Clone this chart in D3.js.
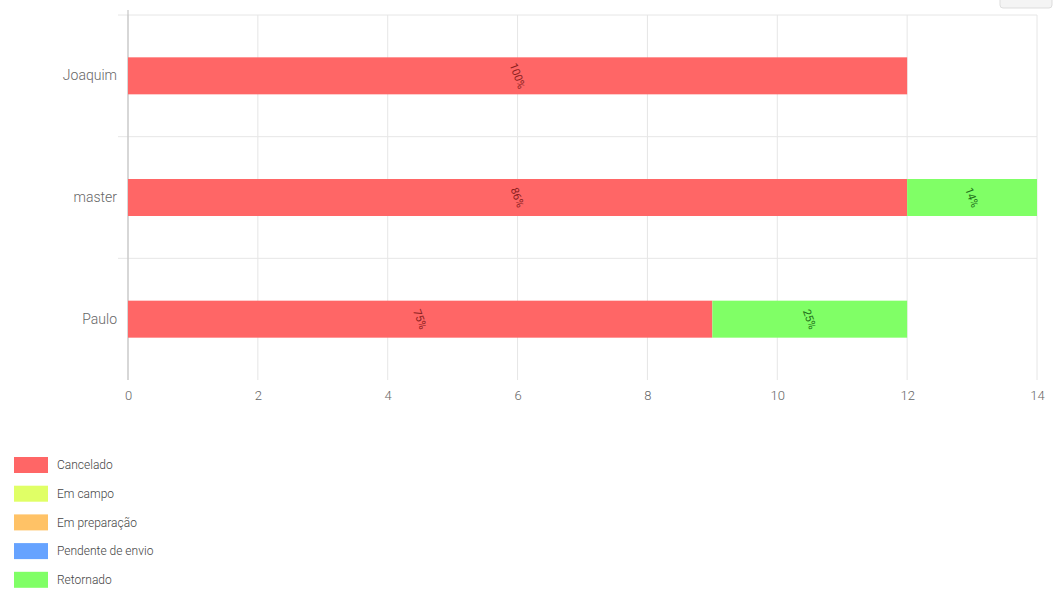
<!DOCTYPE html>
<html>
  <head>
    <meta charset="utf-8">
    <title>Status por usuario</title>
    <script src="https://d3js.org/d3.v7.min.js"></script>
    <style>
      body { margin: 0; background: #fff; font-family: Roboto, "Noto Sans", sans-serif; font-weight: 300; }
      .grid line { stroke: #e6e6e6; }
      .tick text { fill: #666; }
    </style>
  </head>
  <body>
    <svg width="1056" height="593"></svg>
    <script>
      // data
      var users = ["Joaquim", "master", "Paulo"];
      var statuses = ["Cancelado", "Em campo", "Em preparação", "Pendente de envio", "Retornado"];
      var colors = ["#ff6666", "#e0ff66", "#ffc266", "#66a3ff", "#80ff66"];
      var labelColors = ["#8a2020", "#6a7a1a", "#8a5a1a", "#1a4a8a", "#1f6f1a"];
      var cancelado = [12, 12, 9];
      var emCampo = [0, 0, 0];
      var emPreparacao = [0, 0, 0];
      var pendente = [0, 0, 0];
      var retornado = [0, 2, 3];
      var xTicks = [0, 2, 4, 6, 8, 10, 12, 14];

      var series = [cancelado, emCampo, emPreparacao, pendente, retornado];
      var rows = users.map(function(u, i) {
        var r = { user: u };
        statuses.forEach(function(s, j) { r[s] = series[j][i]; });
        return r;
      });

      var svg = d3.select("svg");
      var pLeft = 128, pRight = 1037, pTop = 15, pBottom = 380;

      var x = d3.scaleLinear().domain([0, 14]).range([pLeft, pRight]);
      var y = d3.scaleBand().domain(users).range([pTop, pBottom]).paddingInner(0).paddingOuter(0);

      // button at top right, cut off
      svg.append("rect").attr("x", 1000).attr("y", -6).attr("width", 52).attr("height", 14)
          .attr("rx", 3).attr("fill", "#f4f4f4").attr("stroke", "#ddd");

      // grid
      var grid = svg.append("g").attr("class", "grid");
      grid.selectAll("line.v").data(xTicks).enter().append("line").attr("class", "v")
          .attr("x1", function(d) { return x(d); }).attr("x2", function(d) { return x(d); })
          .attr("y1", pTop).attr("y2", pBottom);
      grid.selectAll("line.h").data(users.slice(1)).enter().append("line").attr("class", "h")
          .attr("x1", pLeft - 10).attr("x2", pRight)
          .attr("y1", function(d) { return y(d); }).attr("y2", function(d) { return y(d); });
      grid.append("line").attr("x1", pLeft - 10).attr("x2", pRight).attr("y1", pTop).attr("y2", pTop);

      // x axis labels
      var xAxis = d3.axisBottom(x).tickValues(xTicks).tickSize(0).tickPadding(11);
      var gx = svg.append("g").attr("transform", "translate(0," + pBottom + ")").call(xAxis);
      gx.select(".domain").remove();
      gx.selectAll("text").style("font-size", "13px").style("font-family", "Roboto").style("font-weight", 300);

      // y axis
      var yAxis = d3.axisLeft(y).tickSize(0).tickPadding(11);
      var gy = svg.append("g").attr("transform", "translate(" + pLeft + ",0)").call(yAxis);
      gy.select(".domain").attr("stroke", "#bbb").attr("d", "M0," + (pTop - 5) + "V" + pBottom);
      gy.selectAll("text").style("font-size", "14px").style("font-family", "Roboto").style("font-weight", 300).attr("fill", "#444");

      // stacked bars
      var stack = d3.stack().keys(statuses)(rows);
      var barH = 37;
      var layers = svg.append("g").selectAll("g").data(stack).enter().append("g")
          .attr("fill", function(d, i) { return colors[i]; });
      layers.selectAll("rect").data(function(d) { return d; }).enter().append("rect")
          .attr("x", function(d) { return x(d[0]); })
          .attr("width", function(d) { return x(d[1]) - x(d[0]); })
          .attr("y", function(d) { return y(d.data.user) + y.bandwidth() / 2 - barH / 2; })
          .attr("height", barH);

      // percentage labels
      stack.forEach(function(layer, i) {
        layer.forEach(function(d) {
          var v = d[1] - d[0];
          if (v <= 0) return;
          var total = statuses.reduce(function(a, s) { return a + d.data[s]; }, 0);
          var cx = x((d[0] + d[1]) / 2), cy = y(d.data.user) + y.bandwidth() / 2;
          svg.append("text")
              .attr("transform", "translate(" + cx + "," + cy + ") rotate(70)")
              .attr("text-anchor", "middle").attr("dy", "0.35em")
              .style("font-size", "11px").style("font-weight", 400).attr("fill", labelColors[i])
              .text(Math.round(v / total * 100) + "%");
        });
      });

      // legend
      var legend = svg.append("g").selectAll("g").data(statuses).enter().append("g")
          .attr("transform", function(d, i) { return "translate(14," + (457 + i * 28.7) + ")"; });
      legend.append("rect").attr("width", 34).attr("height", 16)
          .attr("fill", function(d, i) { return colors[i]; });
      legend.append("text").attr("x", 43).attr("y", 8).attr("dy", "0.35em")
          .style("font-size", "12px").attr("fill", "#444").text(function(d) { return d; });
    </script>
  </body>
</html>
